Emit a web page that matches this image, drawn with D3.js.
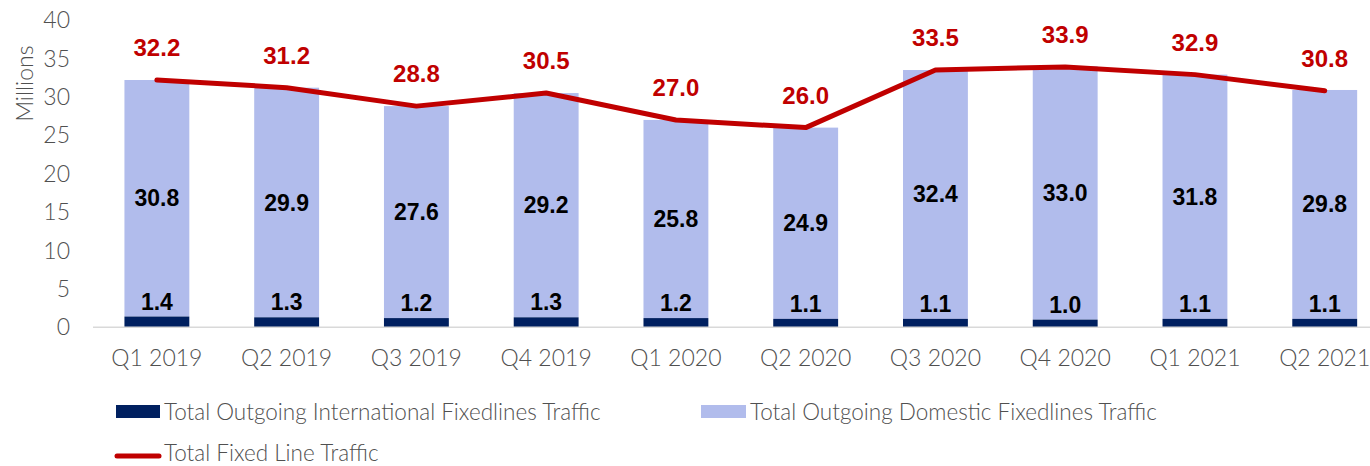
<!DOCTYPE html>
<html>
<head>
<meta charset="utf-8">
<script src="https://cdn.jsdelivr.net/npm/d3@7"></script>
<style>
  html, body { margin: 0; padding: 0; background: #fff; }
  svg { display: block; }
</style>
</head>
<body>
<svg id="chart" width="1370" height="466"></svg>
<script>
const categories = ["Q1 2019","Q2 2019","Q3 2019","Q4 2019","Q1 2020","Q2 2020","Q3 2020","Q4 2020","Q1 2021","Q2 2021"];
const international = [1.4, 1.3, 1.2, 1.3, 1.2, 1.1, 1.1, 1.0, 1.1, 1.1];
const domestic = [30.8, 29.9, 27.6, 29.2, 25.8, 24.9, 32.4, 33.0, 31.8, 29.8];
const totalTraffic = [32.2, 31.2, 28.8, 30.5, 27.0, 26.0, 33.5, 33.9, 32.9, 30.8];
const yTicks = [0, 5, 10, 15, 20, 25, 30, 35, 40];
const seriesNames = ["Total Outgoing International Fixedlines Traffic", "Total Outgoing Domestic Fixedlines Traffic", "Total Fixed Line Traffic"];

const colIntl = "#002060", colDom = "#B1BCEC", colLine = "#C00000", colText = "#505050";
const regFont = "Lato, 'Open Sans', sans-serif";
const regWeight = 300;
const boldFont = "'Liberation Sans', Arial, sans-serif";

const svg = d3.select("#chart");
const x = d3.scaleBand().domain(categories).range([92, 1389.6]).paddingInner(0.5).paddingOuter(0.25);
const y = d3.scaleLinear().domain([0, 40]).range([327.3, 20.1]);

// y tick labels
svg.append("g").selectAll("text").data(yTicks).join("text")
  .attr("x", 70).attr("y", d => y(d)).attr("dy", "0.35em")
  .attr("text-anchor", "end").attr("font-family", regFont).attr("font-weight", regWeight).attr("font-size", 23)
  .attr("fill", colText).text(d => d);

svg.append("text")
  .attr("transform", `translate(33,${(y(40)+y(25))/2 + 6}) rotate(-90)`)
  .attr("text-anchor", "middle").attr("font-family", regFont).attr("font-weight", regWeight).attr("font-size", 23)
  .attr("fill", colText).text("Millions");

// bars
const data = categories.map((c, i) => ({c, intl: international[i], dom: domestic[i], tot: totalTraffic[i]}));
const bars = svg.append("g");
bars.selectAll("rect.dom").data(data).join("rect").attr("class", "dom")
  .attr("x", d => x(d.c)).attr("width", x.bandwidth())
  .attr("y", d => y(d.intl + d.dom)).attr("height", d => y(d.intl) - y(d.intl + d.dom))
  .attr("fill", colDom);
bars.selectAll("rect.intl").data(data).join("rect").attr("class", "intl")
  .attr("x", d => x(d.c)).attr("width", x.bandwidth())
  .attr("y", d => y(d.intl)).attr("height", d => y(0) - y(d.intl))
  .attr("fill", colIntl);

// x axis line
svg.append("line").attr("x1", 93).attr("x2", 1370).attr("y1", y(0)).attr("y2", y(0))
  .attr("stroke", "#D9D9D9").attr("stroke-width", 1.5);

// x labels
svg.append("g").selectAll("text").data(categories).join("text")
  .attr("x", d => x(d) + x.bandwidth()/2).attr("y", 366)
  .attr("text-anchor", "middle").attr("font-family", regFont).attr("font-weight", regWeight).attr("font-size", 23)
  .attr("fill", colText).text(d => d);

// line
const line = d3.line().x(d => x(d.c) + x.bandwidth()/2).y(d => y(d.tot));
svg.append("path").datum(data).attr("d", line)
  .attr("fill", "none").attr("stroke", colLine).attr("stroke-width", 5)
  .attr("stroke-linejoin", "round").attr("stroke-linecap", "round");

// labels
svg.append("g").selectAll("text").data(data).join("text")
  .attr("x", d => x(d.c) + x.bandwidth()/2).attr("y", d => y(d.tot) - 24)
  .attr("text-anchor", "middle").attr("font-family", boldFont).attr("font-weight", "bold")
  .attr("font-size", 24).attr("fill", colLine).text(d => d.tot.toFixed(1));
svg.append("g").selectAll("text").data(data).join("text")
  .attr("x", d => x(d.c) + x.bandwidth()/2).attr("y", d => y(d.intl + d.dom/2)).attr("dy", "0.35em")
  .attr("text-anchor", "middle").attr("font-family", boldFont).attr("font-weight", "bold")
  .attr("font-size", 23).attr("fill", "#000").text(d => d.dom.toFixed(1));
svg.append("g").selectAll("text").data(data).join("text")
  .attr("x", d => x(d.c) + x.bandwidth()/2).attr("y", d => y(d.intl) - 7)
  .attr("text-anchor", "middle").attr("font-family", boldFont).attr("font-weight", "bold")
  .attr("font-size", 23).attr("fill", "#000").text(d => d.intl.toFixed(1));

// legend
const lg = svg.append("g");
lg.append("rect").attr("x", 116).attr("y", 405).attr("width", 44).attr("height", 13).attr("fill", colIntl);
lg.append("text").attr("x", 164).attr("y", 420).attr("font-family", regFont).attr("font-weight", regWeight).attr("font-size", 22.5)
  .attr("fill", colText).text(seriesNames[0]);
lg.append("rect").attr("x", 701).attr("y", 405).attr("width", 45).attr("height", 13).attr("fill", colDom);
lg.append("text").attr("x", 750).attr("y", 420).attr("font-family", regFont).attr("font-weight", regWeight).attr("font-size", 22.5)
  .attr("fill", colText).text(seriesNames[1]);
lg.append("line").attr("x1", 117).attr("x2", 159).attr("y1", 456).attr("y2", 456)
  .attr("stroke", colLine).attr("stroke-width", 5).attr("stroke-linecap", "round");
lg.append("text").attr("x", 164).attr("y", 461).attr("font-family", regFont).attr("font-weight", regWeight).attr("font-size", 22.5)
  .attr("fill", colText).text(seriesNames[2]);
</script>
</body>
</html>
